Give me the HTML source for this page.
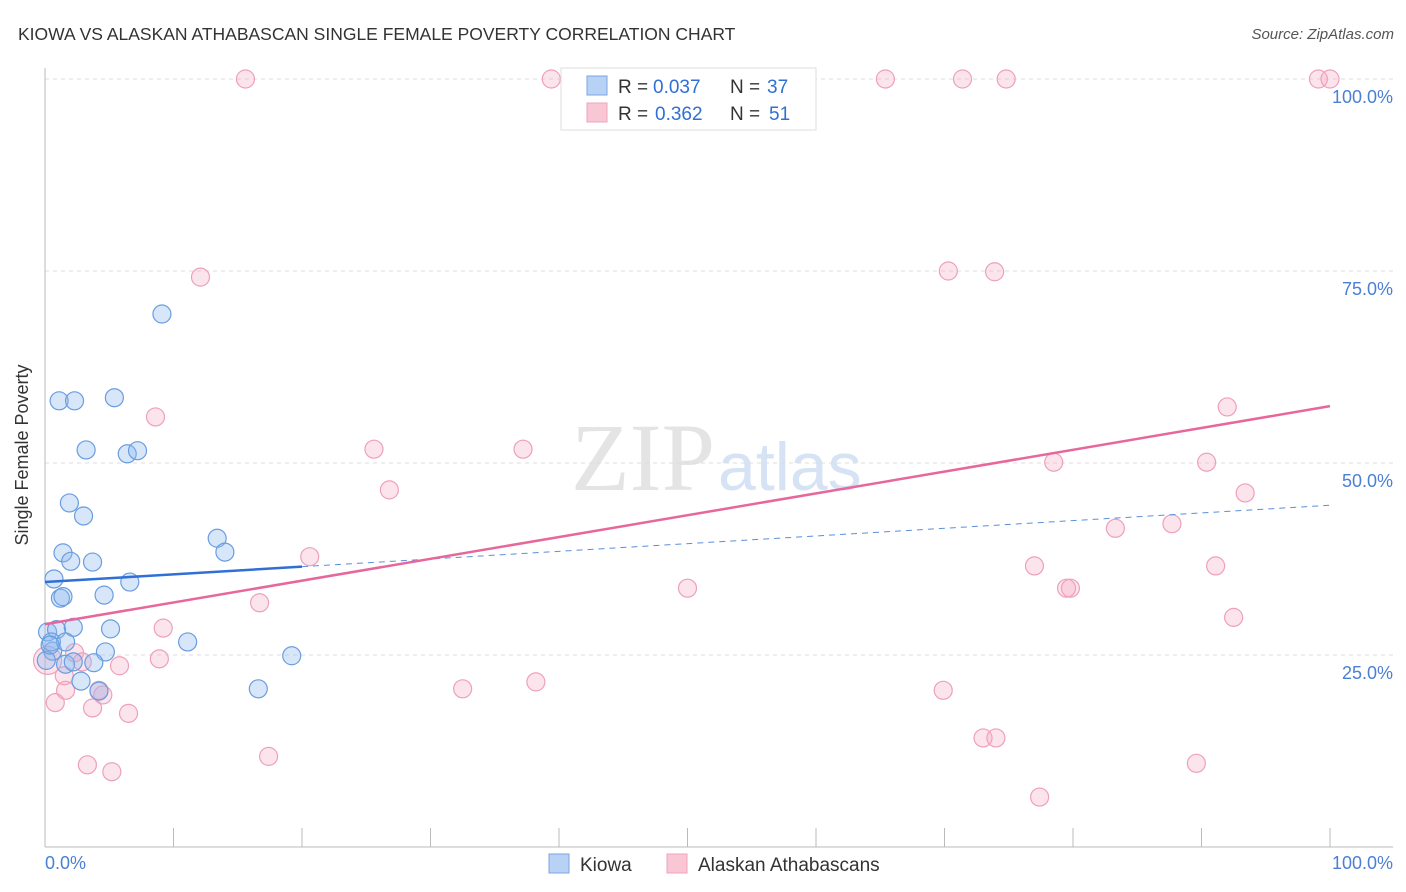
<!DOCTYPE html>
<html><head><meta charset="utf-8"><style>
body{margin:0;background:#fff;font-family:"Liberation Sans",sans-serif}
svg{display:block}
</style></head><body>
<svg id="chart" width="1406" height="892">
<text x="18" y="40" font-size="17.5" fill="#333">KIOWA VS ALASKAN ATHABASCAN SINGLE FEMALE POVERTY CORRELATION CHART</text>
<text x="1394" y="39" font-size="15" font-style="italic" fill="#555" text-anchor="end">Source: ZipAtlas.com</text>
<text x="715" y="490" font-size="96" font-family="Liberation Serif,serif" fill="#e4e4e4" text-anchor="end">ZIP</text>
<text x="718" y="490" font-size="68" fill="#d6e3f5">atlas</text>
<g id="grid"></g><g id="axes"></g><g id="pts"></g><g id="lines"></g>
<text x="28" y="455" font-size="18" fill="#333" text-anchor="middle" transform="rotate(-90 28 455)">Single Female Poverty</text>
<text x="45" y="869" font-size="18" fill="#4a7fd4">0.0%</text>
<text x="1393" y="869" font-size="18" fill="#4a7fd4" text-anchor="end">100.0%</text>
<g>
<rect x="561" y="68" width="255" height="62" fill="#fff" stroke="#ddd"/>
<rect x="587" y="76" width="20" height="19" fill="#b8d2f5" stroke="#7aa6e3"/>
<rect x="587" y="103" width="20" height="19" fill="#f9c6d6" stroke="#eea4bc"/>
<text x="618" y="93" font-size="19" fill="#333">R =</text>
<text x="653" y="93" font-size="19" fill="#2f6fd6">0.037</text>
<text x="730" y="93" font-size="19" fill="#333">N =</text>
<text x="767" y="93" font-size="19" fill="#2f6fd6">37</text>
<text x="618" y="120" font-size="19" fill="#333">R =</text>
<text x="655" y="120" font-size="19" fill="#2f6fd6">0.362</text>
<text x="730" y="120" font-size="19" fill="#333">N =</text>
<text x="769" y="120" font-size="19" fill="#2f6fd6">51</text>
</g>
<g>
<rect x="549" y="854" width="20" height="19" fill="#b8d2f5" stroke="#7aa6e3"/>
<text x="580" y="871" font-size="19" fill="#333">Kiowa</text>
<rect x="667" y="854" width="20" height="19" fill="#f9c6d6" stroke="#eea4bc"/>
<text x="698" y="871" font-size="19" fill="#333">Alaskan Athabascans</text>
</g>
</svg>
<script>
const yTicks=[25,50,75,100];
const yTickLabels=["25.0%","50.0%","75.0%","100.0%"];
const xTicks=[0,10,20,30,40,50,60,70,80,90,100];
const kiowaX=[9.1,1.1,2.3,5.4,3.2,6.4,7.2,1.9,3.0,1.4,2.0,3.7,0.7,6.6,1.2,1.4,4.6,0.2,0.9,5.1,2.2,13.4,14.0,11.1,19.2,0.6,0.5,1.6,4.7,3.8,1.6,2.2,2.8,4.2,16.6,0.1,0.4];
const kiowaY=[69.4,58.1,58.1,58.5,51.7,51.2,51.6,44.8,43.1,38.3,37.2,37.1,34.9,34.5,32.4,32.6,32.8,28.0,28.3,28.4,28.6,40.2,38.4,26.7,24.9,25.5,26.7,26.7,25.4,24.0,23.8,24.1,21.6,20.3,20.6,24.3,26.3];
const athX=[15.6,39.4,65.4,71.4,74.8,99.1,100,12.1,70.3,73.9,8.6,25.6,37.2,26.8,92.0,78.5,90.4,93.4,83.3,87.7,20.6,77.0,91.1,50.0,79.5,79.8,16.7,92.5,9.2,8.9,2.3,5.8,32.5,38.2,69.9,1.6,4.5,4.2,0.8,3.7,6.5,17.4,73.0,74.0,89.6,3.3,5.2,77.4,0.2,1.5,2.9];
const athY=[100,100,100,100,100,100,100,74.2,75.0,74.9,56.0,51.8,51.8,46.5,57.3,50.1,50.1,46.1,41.5,42.1,37.8,36.6,36.6,33.7,33.7,33.7,31.8,29.9,28.5,24.5,25.3,23.6,20.6,21.5,20.4,20.4,19.8,20.4,18.8,18.1,17.4,11.8,14.2,14.2,10.9,10.7,9.8,6.5,24.3,22.3,24.1];
const kiowaTrend=[34.5,0.1];
const kiowaSolidEnd=20;
const athTrend=[29.0,0.284];
const NS="http://www.w3.org/2000/svg";
const X=v=>45+v*12.85, Y=v=>847-v*7.68;
function mk(t,a,p){const e=document.createElementNS(NS,t);for(const k in a)e.setAttribute(k,a[k]);document.getElementById(p).appendChild(e);return e;}
yTicks.forEach((t,i)=>{
 const g=mk('line',{x1:45,x2:1393,y1:Y(t),y2:Y(t),stroke:'#ddd','stroke-dasharray':'4,4'},'grid');
 
 
 const l=mk('text',{x:1393,y:Y(t)+24,'font-size':18,fill:'#4a7fd4','text-anchor':'end'},'grid');
 l.textContent=yTickLabels[i];
 
 
});
let a=mk('line',{x1:45,x2:45,y1:68,y2:847,stroke:'#bbb'},'axes');


a=mk('line',{x1:45,x2:1393,y1:847,y2:847,stroke:'#bbb'},'axes');


xTicks.forEach(t=>{const e=mk('line',{x1:X(t),x2:X(t),y1:828,y2:847,stroke:'#bbb'},'axes');
 
 });
athX.forEach((x,i)=>{const c=mk('circle',{cx:X(x),cy:Y(athY[i]),r:i==48?14:9,fill:'rgba(245,165,192,0.3)',stroke:'#eea0ba','stroke-width':1.2},'pts');
 
 });
kiowaX.forEach((x,i)=>{const c=mk('circle',{cx:X(x),cy:Y(kiowaY[i]),r:9,fill:'rgba(140,182,238,0.35)',stroke:'#6a9de0','stroke-width':1.2},'pts');
 
 });
const kf=x=>kiowaTrend[0]+kiowaTrend[1]*x, af=x=>athTrend[0]+athTrend[1]*x;
let t=mk('line',{x1:X(0),y1:Y(kf(0)),x2:X(kiowaSolidEnd),y2:Y(kf(kiowaSolidEnd)),stroke:'#2f6fd6','stroke-width':2.5},'lines');


t=mk('line',{x1:X(kiowaSolidEnd),y1:Y(kf(kiowaSolidEnd)),x2:X(100),y2:Y(kf(100)),stroke:'#5a8fdc','stroke-width':1,'stroke-dasharray':'6,5'},'lines');


t=mk('line',{x1:X(0),y1:Y(af(0)),x2:X(100),y2:Y(af(100)),stroke:'#e8679a','stroke-width':2.5},'lines');


</script>
</body></html>
